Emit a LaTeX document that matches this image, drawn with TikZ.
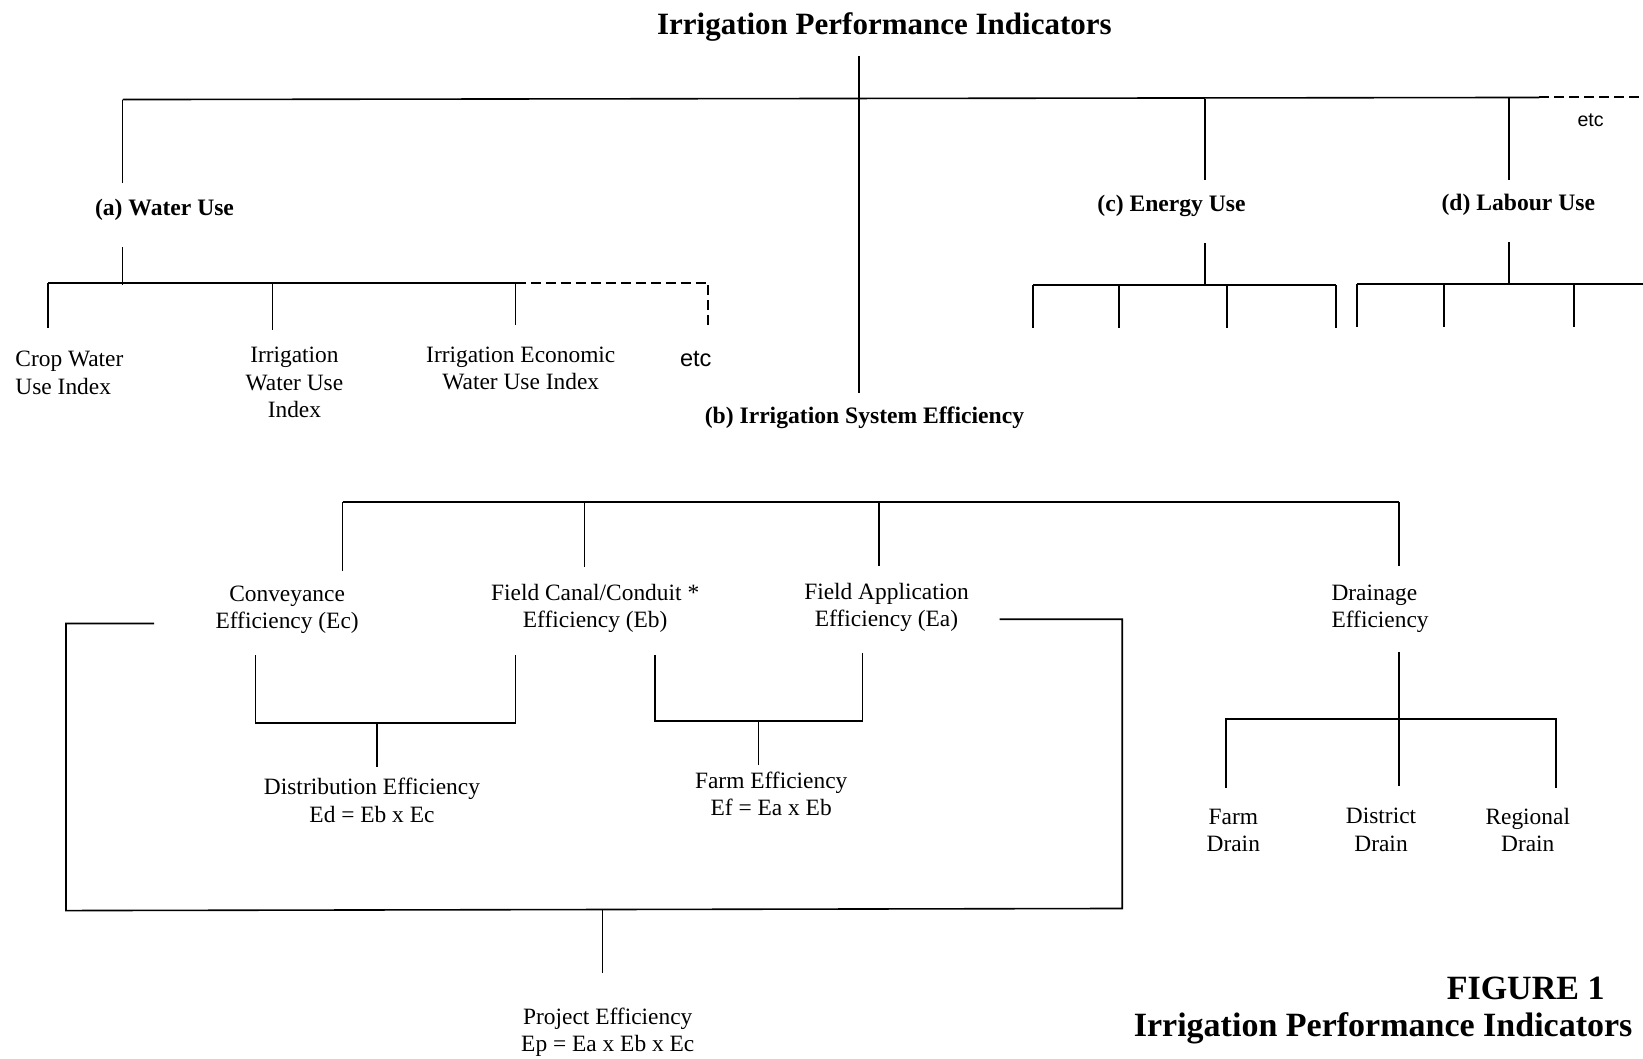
\documentclass[tikz,border=0pt]{standalone}
\usepackage{fontspec}
\setmainfont{Liberation Serif}
\newfontfamily\etcfont{Liberation Sans}
\usepackage{tikz}
\usetikzlibrary{positioning}

\begin{document}
\begin{tikzpicture}[-,x=0.5239pt,y=-0.5239pt,
				thick,label node/.style={inner sep=0pt,align=center,yshift=-1pt,
					font=\fontsize{11.7}{13.6}\selectfont},
				head node/.style={inner sep=0pt,yshift=-1pt,
					font=\fontsize{11.8}{14}\selectfont\bfseries},
				title node/.style={inner sep=0pt,yshift=-1.5pt,
					font=\fontsize{15.5}{18}\selectfont\bfseries},
				figure node/.style={inner sep=0pt,yshift=-1pt,
					font=\fontsize{17}{20}\selectfont\bfseries},
				etc node/.style={inner sep=0pt,yshift=-1pt,font=\etcfont\fontsize{11.8}{14}\selectfont},
				more/.style={dash pattern=on 5pt off 2.5pt,line width=1pt}]
				
				\useasboundingbox (0,0) rectangle (1568,1010);
				
				% top level
				\node[title node] (ipi) at (844,23) {Irrigation Performance Indicators};
				\node[head node] (wu) at (157,198) {(a) Water Use};
				\node[head node] (ise) at (825,397) {(b) Irrigation System Efficiency};
				\node[head node] (eu) at (1118,195) {(c) Energy Use};
				\node[head node] (lu) at (1449,194) {(d) Labour Use};
				\node[etc node,font=\etcfont\fontsize{9.8}{12}\selectfont] (etct) at (1518,113) {etc};
				
				\coordinate (ipiB) at (820,53);
				\coordinate (iseT) at (820,375);
				\coordinate (barA) at (117,95);
				\coordinate (barC) at (1150,94);
				\coordinate (barD) at (1440,93);
				\coordinate (barX) at (1469,93);
				\coordinate (barE) at (1568,93);
				\coordinate (wuT) at (117,175);
				\coordinate (euT) at (1150,172);
				\coordinate (luT) at (1440,172);
				
				\path (ipiB) edge (iseT)
				(barA) edge (barX)
				(barA) edge (wuT)
				(barC) edge (euT)
				(barD) edge (luT);
				\draw[more] (barX) -- (barE);
				
				% (a) water use
				\node[label node,align=left,anchor=west] (cwu) at (14,354) {Crop Water\\Use Index};
				\node[label node] (iwu) at (281,363) {Irrigation\\Water Use\\Index};
				\node[label node] (iew) at (497,350) {Irrigation Economic\\Water Use Index};
				\node[etc node] (etcw) at (664,341) {etc};
				
				\coordinate (wuB) at (117,236);
				\coordinate (wuJ) at (117,272);
				\coordinate (wb1) at (46,270);
				\coordinate (wb2) at (260,270);
				\coordinate (wb3) at (492,270);
				\coordinate (wb4) at (676,270);
				\coordinate (cwuT) at (46,313);
				\coordinate (iwuT) at (260,315);
				\coordinate (iewT) at (492,310);
				\coordinate (etcwT) at (676,313);
				
				\path (wuB) edge (wuJ)
				(wb1) edge (wb3)
				(wb1) edge (cwuT)
				(wb2) edge (iwuT)
				(wb3) edge (iewT);
				\draw[more] (wb3) -- (wb4) -- (etcwT);
				
				% (c) energy use and (d) labour use
				\coordinate (euB) at (1150,232);
				\coordinate (euJ) at (1150,272);
				\coordinate (luB) at (1440,231);
				\coordinate (luJ) at (1440,271);
				\path (euB) edge (euJ)
				(luB) edge (luJ);
				\foreach \x [count=\i] in {986,1068,1171,1275} {
					\coordinate (en\i) at (\x,272);
					\coordinate (en\i b) at (\x,313);
					\draw (en\i) -- (en\i b);
				}
				\draw (en1) -- (en4);
				\foreach \x [count=\i] in {1295,1378,1502} {
					\coordinate (lb\i) at (\x,271);
					\coordinate (lb\i b) at (\x,312);
					\draw (lb\i) -- (lb\i b);
				}
				\coordinate (lbE) at (1568,271);
				\draw (lb1) -- (lbE);
				
				% (b) system efficiency
				\node[label node] (cve) at (274,580) {Conveyance\\Efficiency (Ec)};
				\node[label node] (fce) at (568,579) {Field Canal/Conduit *\\Efficiency (Eb)};
				\node[label node] (fae) at (846,578) {Field Application\\Efficiency (Ea)};
				\node[label node,align=left,anchor=west] (dre) at (1270,579) {Drainage\\Efficiency};
				
				\coordinate (sb1) at (327,479);
				\coordinate (sb2) at (558,479);
				\coordinate (sb3) at (839,479);
				\coordinate (sb4) at (1335,479);
				\coordinate (cveT) at (327,545);
				\coordinate (fceT) at (558,541);
				\coordinate (faeT) at (839,540);
				\coordinate (dreT) at (1335,540);
				\path (sb1) edge (sb4)
				(sb1) edge (cveT)
				(sb2) edge (fceT)
				(sb3) edge (faeT)
				(sb4) edge (dreT);
				
				% distribution and farm efficiency
				\node[label node] (dis) at (355,762) {Distribution Efficiency\\Ed = Eb x Ec};
				\node[label node] (fme) at (736,756) {Farm Efficiency\\Ef = Ea x Eb};
				
				\coordinate (dc) at (244,625);
				\coordinate (db) at (492,625);
				\coordinate (dJ) at (360,690);
				\coordinate (disT) at (360,732);
				\draw (dc) |- (dJ) -| (db);
				\draw (dJ) -- (disT);
				
				\coordinate (fb) at (625,625);
				\coordinate (fa) at (823,623);
				\coordinate (fJ) at (724,688);
				\coordinate (fmeT) at (724,730);
				\draw (fb) |- (fJ) -| (fa);
				\draw (fJ) -- (fmeT);
				
				% drainage
				\node[label node] (fdr) at (1177,791) {Farm\\Drain};
				\node[label node] (ddr) at (1318,790) {District\\Drain};
				\node[label node] (rdr) at (1458,790) {Regional\\Drain};
				
				\coordinate (dreB) at (1335,622);
				\coordinate (drJ) at (1335,686);
				\coordinate (ddrT) at (1335,750);
				\coordinate (fdrT) at (1170,752);
				\coordinate (rdrT) at (1485,752);
				\draw (dreB) -- (ddrT);
				\draw (fdrT) |- (drJ) -| (rdrT);
				
				% project efficiency
				\node[label node] (pje) at (580,983) {Project Efficiency\\Ep = Ea x Eb x Ec};
				
				\coordinate (pl) at (147,595);
				\coordinate (pr) at (954,591);
				\coordinate (pJ) at (575,868);
				\coordinate (pjeT) at (575,929);
				\draw (pl) -- (63,595) -- (63,869) -- (1071,867) -- (1071,591) -- (pr);
				\draw (pJ) -- (pjeT);
				
				% caption
				\node[figure node] (fig) at (1456,941) {FIGURE 1};
				\node[figure node] (figt) at (1320,979) {Irrigation Performance Indicators};
			\end{tikzpicture}
\end{document}
